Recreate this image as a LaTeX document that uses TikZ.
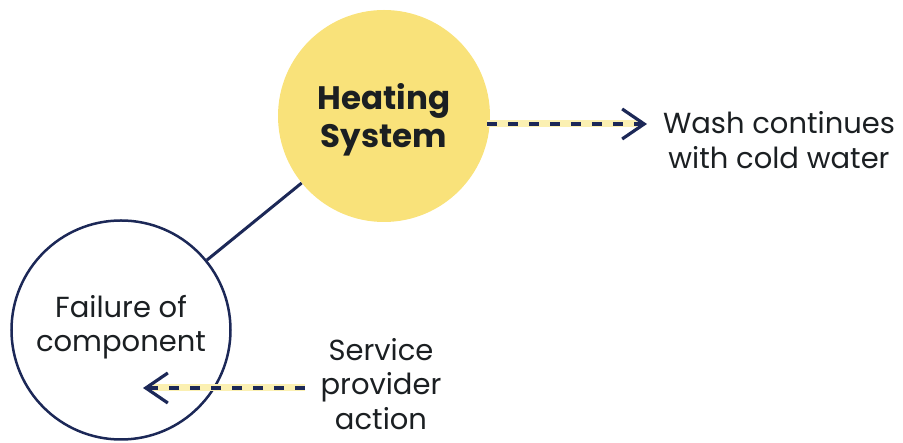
\documentclass[tikz,border=0pt]{standalone}
\usepackage{fontspec}
\setmainfont{Poppins}
\usetikzlibrary{arrows.meta}
\definecolor{sun}{HTML}{F9E27A}
\definecolor{glow}{HTML}{FBF0B2}
\definecolor{navy}{HTML}{1C2857}
\definecolor{ink}{HTML}{1B1F22}
\tikzset{
  label text/.style={align=center, text=ink, font=\fontsize{29}{34.5}\selectfont},
  title text/.style={align=center, text=ink, font=\bfseries\fontsize{32.5}{38}\selectfont},
  flowdash/.style={navy, line width=3.2pt, dash pattern=on 10pt off 11pt,
    -{Straight Barb[length=22pt,width=30pt,line width=3.2pt]}},
  glowband/.style={glow, line width=7pt},
}
\begin{document}
\begin{tikzpicture}[x=1pt,y=1pt]
  \useasboundingbox (0,0) rectangle (903,443);

  % main circles
  \node[circle, fill=sun, minimum size=212pt, inner sep=0pt] (heat) at (384,327) {};
  \node[circle, draw=navy, line width=2.5pt, minimum size=219pt, inner sep=0pt] (fail) at (121,113) {};

  % circle captions
  \node[title text] (heatcap) at ([yshift=-4pt]heat.center) {Heating\\System};
  \node[label text] (failcap) at ([yshift=3pt]fail.center) {Failure of\\component};

  % outcome labels
  \node[label text] (wash) at (779,303) {Wash continues\\with cold water};
  \node[label text] (svc) at (381,59) {Service\\provider\\action};

  % connector between the circles
  \draw[navy, line width=3pt] (heat) -- (fail);

  % dashed arrow towards the outcome
  \coordinate (washstart) at (487,319);
  \coordinate (washtip) at (647,319);
  \draw[glowband] (washstart) -- ([xshift=-10pt]washtip);
  \draw[flowdash] (washstart) -- (washtip);

  % dashed arrow back into the failure circle
  \coordinate (svcstart) at (305,55);
  \coordinate (svctip) at (143,55);
  \draw[glowband] (svcstart) -- ([xshift=10pt]svctip);
  \draw[flowdash] (svcstart) -- (svctip);
\end{tikzpicture}
\end{document}
